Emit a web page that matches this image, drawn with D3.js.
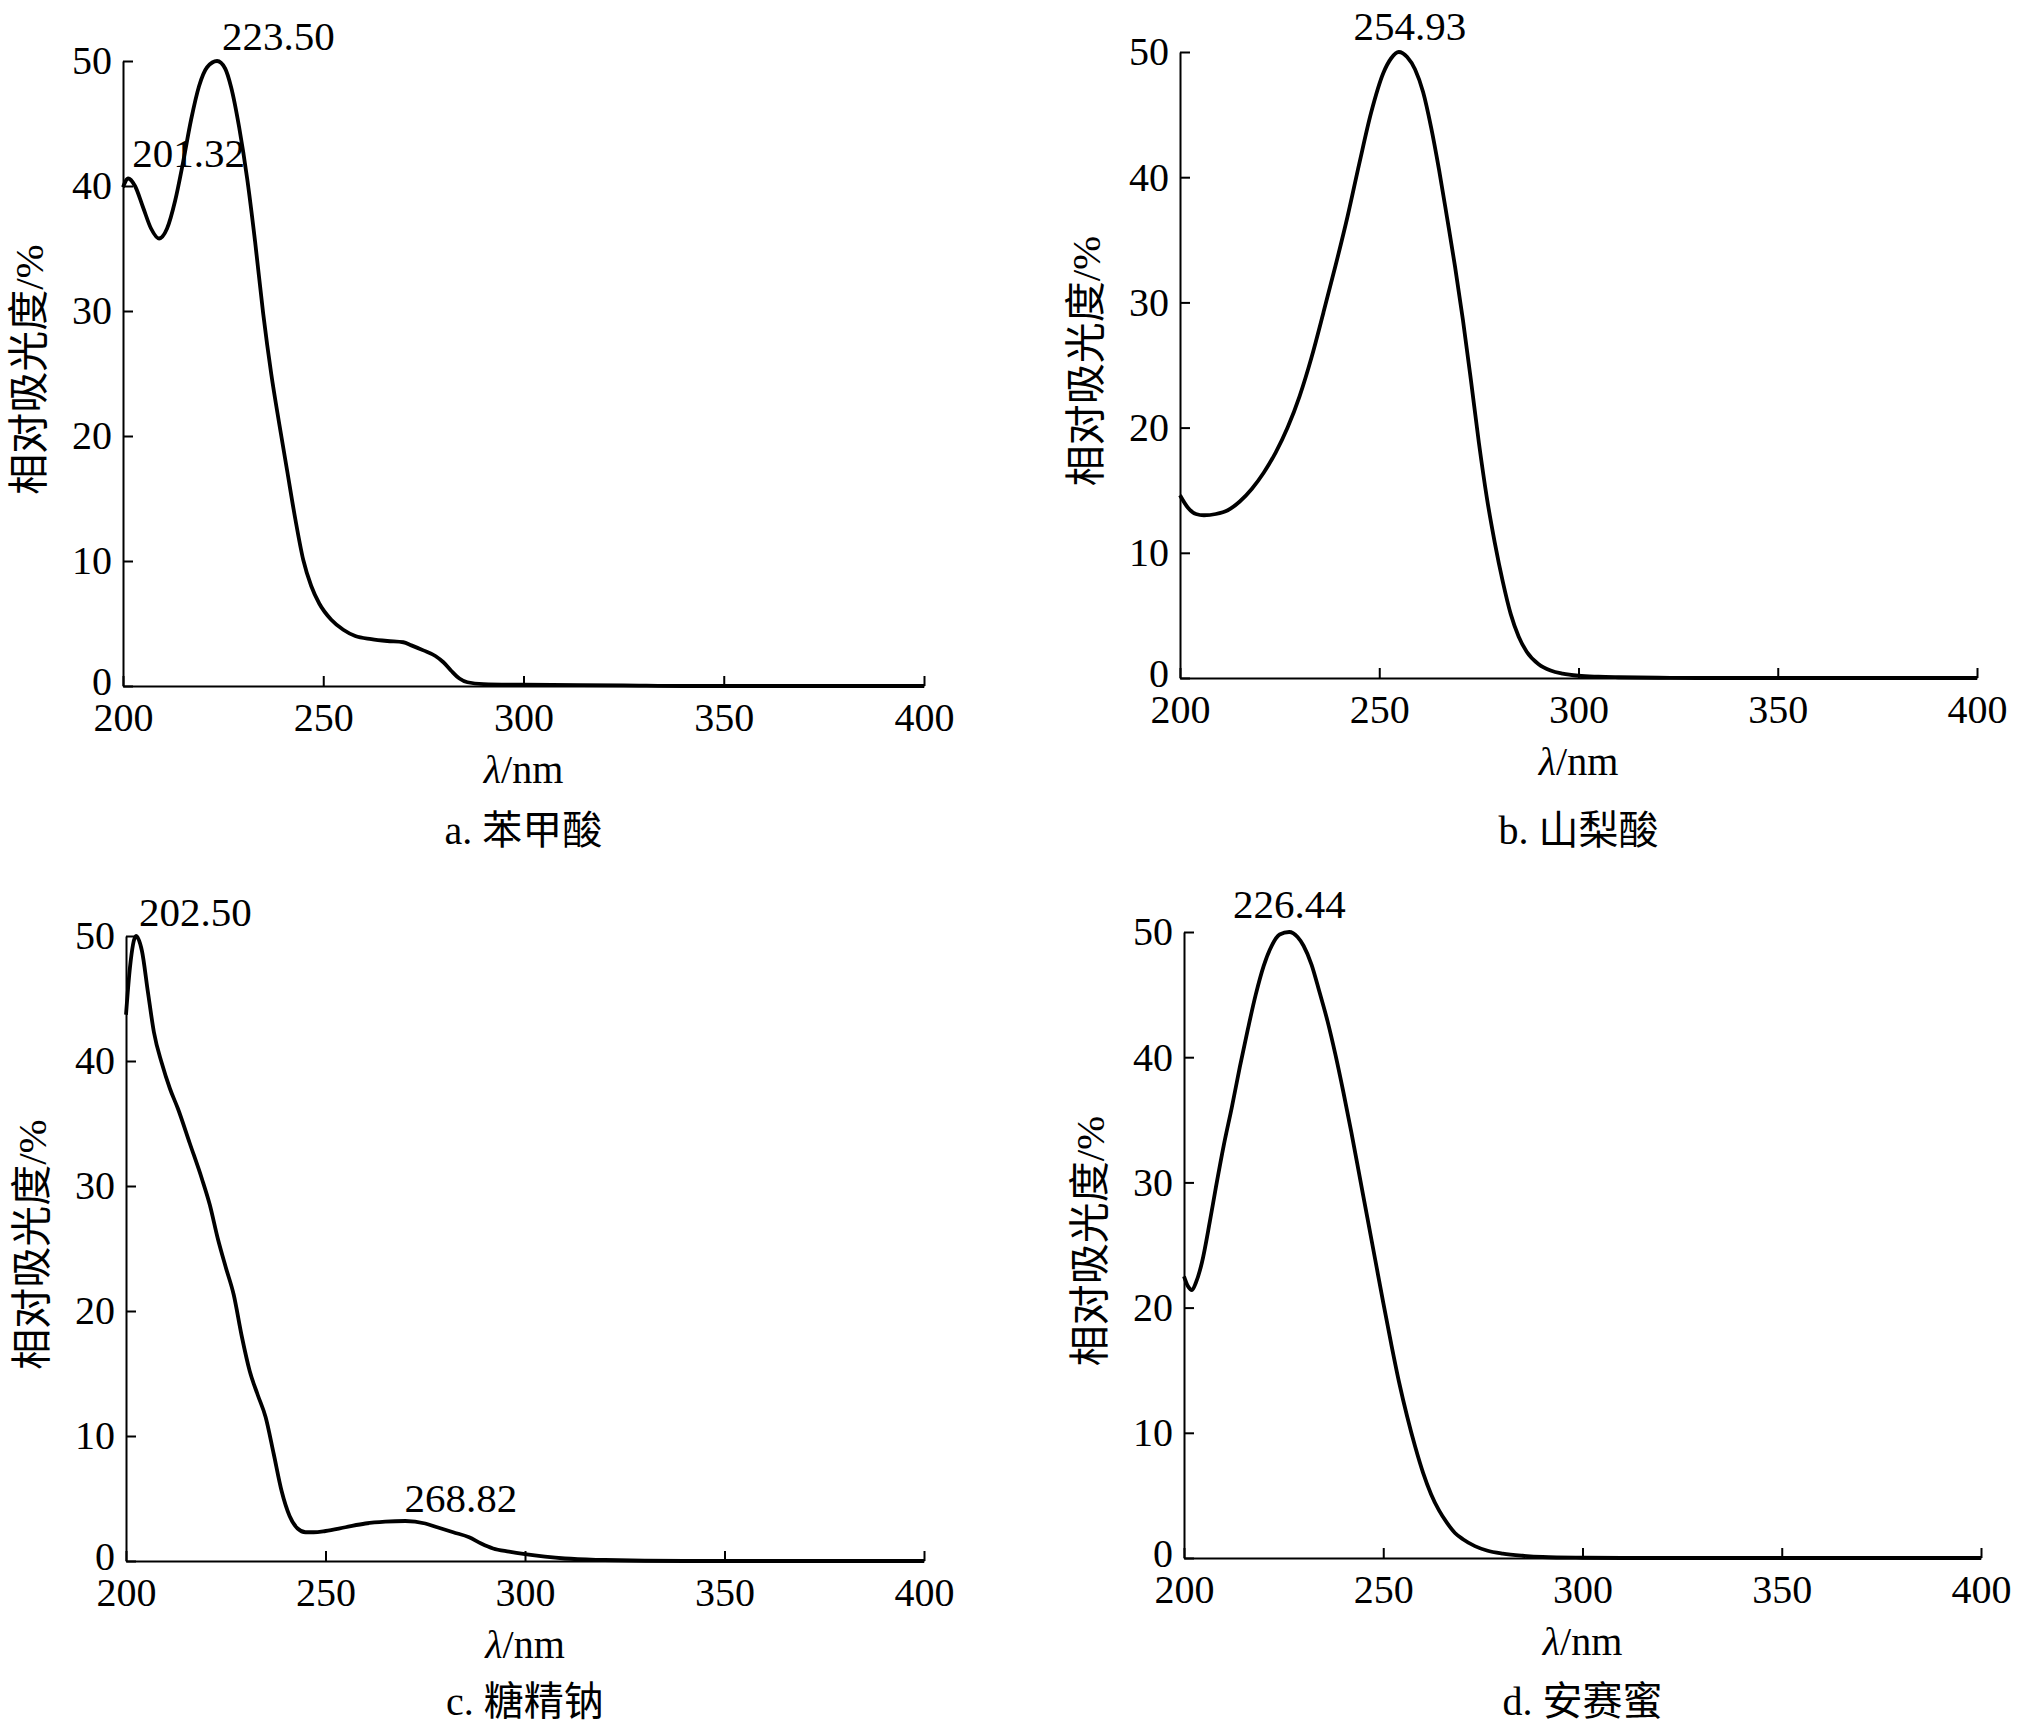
<!DOCTYPE html>
<html>
<head>
<meta charset="utf-8">
<script src="https://cdn.jsdelivr.net/npm/d3@7"></script>
<style>
  body { margin: 0; background: #fff; }
  text { font-family: "Liberation Serif", "Noto Sans CJK SC", serif; fill: #000; }
</style>
</head>
<body>
<svg id="chart" width="2017" height="1726"></svg>
<script>
//axis ticks
var xTicks = [200, 250, 300, 350, 400];
var yTicks = [0, 10, 20, 30, 40, 50];

//a. 苯甲酸
var wlA = [200, 201.3, 203, 205, 207, 209, 211, 213, 215, 217, 219, 221, 223.5, 225.5, 227, 229, 231, 233, 235, 237,
  239, 241, 243, 245, 247, 249, 252, 255, 258, 262, 266, 270, 272, 275, 278, 280, 282, 284, 286, 290, 300, 325, 340, 400];
var absA = [39.9, 40.6, 40.0, 38.3, 36.6, 35.8, 36.6, 38.8, 41.9, 45.3, 48.0, 49.5, 50, 49.4, 47.9, 44.7, 40.6, 35.5, 29.8, 25.0,
  21.0, 17.2, 13.4, 10.1, 8.0, 6.6, 5.3, 4.5, 4.0, 3.75, 3.6, 3.5, 3.25, 2.85, 2.4, 1.9, 1.2, 0.6, 0.3, 0.15, 0.1, 0.05, 0, 0];
var peaksA = [{text: "223.50", wl: 223.5, val: 50}, {text: "201.32", wl: 201.32, val: 40.6}];

//b. 山梨酸
var wlB = [200, 202, 204, 206, 209, 212, 215, 218, 221, 224, 227, 230, 233, 236, 239, 242, 245, 248, 251, 253,
  254.9, 257, 259, 261, 263, 265, 267, 269, 271, 273, 275, 277, 279, 281, 283, 285, 287, 290, 293, 296,
  300, 305, 310, 320, 330, 400];
var absB = [14.6, 13.6, 13.1, 13.0, 13.1, 13.4, 14.1, 15.1, 16.4, 18.0, 20.0, 22.5, 25.6, 29.2, 32.9, 36.8, 41.1, 45.2, 48.3, 49.5,
  50, 49.6, 48.6, 46.8, 44.0, 40.6, 36.8, 32.9, 28.6, 23.8, 18.8, 14.4, 10.8, 7.7, 5.1, 3.3, 2.1, 1.1, 0.6, 0.35,
  0.18, 0.1, 0.06, 0.02, 0, 0];
var peaksB = [{text: "254.93", wl: 254.93, val: 50}];

//c. 糖精钠
var wlC = [200, 201, 202.5, 204, 205.5, 207, 209, 211, 213, 216, 219, 221, 223, 225, 227, 229, 231, 233, 235, 237,
  239, 241, 243, 245, 247, 250, 255, 260, 265, 270, 275, 278, 282, 286, 289, 292, 296, 300, 305, 310, 320, 330, 340, 400];
var absC = [43.7, 47.5, 50, 48.8, 45.5, 42.3, 39.8, 37.8, 36.2, 33.4, 30.6, 28.5, 25.8, 23.5, 21.3, 18.0, 15.2, 13.3, 11.5, 8.6,
  5.6, 3.6, 2.6, 2.3, 2.3, 2.4, 2.7, 3.0, 3.15, 3.2, 3.0, 2.7, 2.3, 1.9, 1.4, 1.0, 0.75, 0.55, 0.35, 0.2, 0.08, 0.02, 0, 0];
var peaksC = [{text: "202.50", wl: 202.5, val: 50}, {text: "268.82", wl: 268.82, val: 3.2}];

//d. 安赛蜜
var wlD = [200, 201, 202, 203, 204.5, 206.5, 208, 210, 212, 214, 216, 218, 220, 222, 224, 226.4, 228.5, 230, 232, 234,
  236, 238, 240, 242, 244, 246, 248, 250, 252, 254, 256, 258, 260, 262, 264, 266, 268, 270, 273, 276,
  280, 285, 290, 300, 310, 400];
var absD = [22.5, 21.7, 21.4, 22.0, 23.6, 26.9, 29.6, 33.0, 36.0, 39.2, 42.2, 45.0, 47.3, 48.9, 49.8, 50, 49.6, 48.9, 47.4, 45.2,
  42.9, 40.2, 37.2, 34.0, 30.6, 27.2, 23.8, 20.4, 17.1, 14.0, 11.3, 8.9, 6.8, 5.1, 3.8, 2.8, 2.0, 1.5, 0.95, 0.6,
  0.35, 0.18, 0.08, 0.02, 0, 0];
var peaksD = [{text: "226.44", wl: 226.44, val: 50}];

var captions = ["a. 苯甲酸", "b. 山梨酸", "c. 糖精钠", "d. 安赛蜜"];
var yTitle = "相对吸光度/%";

//layout of the four panels (pixels)
var panels = [
  {wl: wlA, abs: absA, peaks: peaksA, x0: 123, x1: 924, yTop: 61, yBot: 686, capY: 844,
   offs: [[5, -11, "start"], [4, -12, "start"]]},
  {wl: wlB, abs: absB, peaks: peaksB, x0: 1180, x1: 1977, yTop: 52, yBot: 678, capY: 844,
   offs: [[11, -12, "middle"]]},
  {wl: wlC, abs: absC, peaks: peaksC, x0: 126, x1: 924, yTop: 936, yBot: 1561, capY: 1715,
   offs: [[3, -10, "start"], [4, -9, "start"]]},
  {wl: wlD, abs: absD, peaks: peaksD, x0: 1184, x1: 1981, yTop: 932, yBot: 1558, capY: 1715,
   offs: [[0, -14, "middle"]]}
];

var svg = d3.select('#chart');

panels.forEach(function(p, i) {
  var x = d3.scaleLinear().domain([200, 400]).range([p.x0, p.x1]);
  var y = d3.scaleLinear().domain([0, 50]).range([p.yBot, p.yTop]);
  var g = svg.append('g');

  //axes, ticks pointing inward
  var xAxis = g.append('g')
    .attr('transform', 'translate(0,' + p.yBot + ')')
    .call(d3.axisBottom(x).tickValues(xTicks).tickSizeInner(-10).tickSizeOuter(0).tickPadding(17));
  var yAxis = g.append('g')
    .attr('transform', 'translate(' + p.x0 + ',0)')
    .call(d3.axisLeft(y).tickValues(yTicks).tickSizeInner(-10).tickSizeOuter(0).tickPadding(11));

  [xAxis, yAxis].forEach(function(a) {
    a.selectAll('path, line').attr('stroke', '#000').attr('stroke-width', 2);
    a.selectAll('text')
      .style('font-family', '"Liberation Serif", serif')
      .style('font-size', '40px');
  });
  //the 0 label sits a little higher, clear of the 200 label below it
  yAxis.selectAll('.tick').filter(function(d) { return d === 0; })
    .select('text').attr('dy', '0.22em');

  //spectrum
  var line = d3.line()
    .x(function(d, k) { return x(p.wl[k]); })
    .y(function(d) { return y(d); })
    .curve(d3.curveMonotoneX);

  g.append('path')
    .datum(p.abs)
    .attr('d', line)
    .attr('fill', 'none')
    .attr('stroke', '#000')
    .attr('stroke-width', 3.8)
    .attr('stroke-linejoin', 'round');

  //peak labels
  g.selectAll('.peak')
    .data(p.peaks)
    .enter().append('text')
    .attr('class', 'peak')
    .attr('x', function(d, k) { return x(d.wl) + p.offs[k][0]; })
    .attr('y', function(d, k) { return y(d.val) + p.offs[k][1]; })
    .attr('text-anchor', function(d, k) { return p.offs[k][2]; })
    .style('font-size', '41px')
    .text(function(d) { return d.text; });

  var cx = (p.x0 + p.x1) / 2;

  //x axis title
  var xt = g.append('text')
    .attr('x', cx)
    .attr('y', p.yBot + 97)
    .attr('text-anchor', 'middle')
    .style('font-size', '40px');
  xt.append('tspan').style('font-style', 'italic').text('λ');
  xt.append('tspan').text('/nm');

  //y axis title
  g.append('text')
    .attr('transform', 'translate(' + (p.x0 - 80) + ',' + ((p.yTop + p.yBot) / 2 - 4) + ') rotate(-90)')
    .attr('text-anchor', 'middle')
    .style('font-size', '41px')
    .text(yTitle);

  //caption
  g.append('text')
    .attr('x', cx)
    .attr('y', p.capY)
    .attr('text-anchor', 'middle')
    .style('font-size', '40px')
    .text(captions[i]);
});
</script>
</body>
</html>
